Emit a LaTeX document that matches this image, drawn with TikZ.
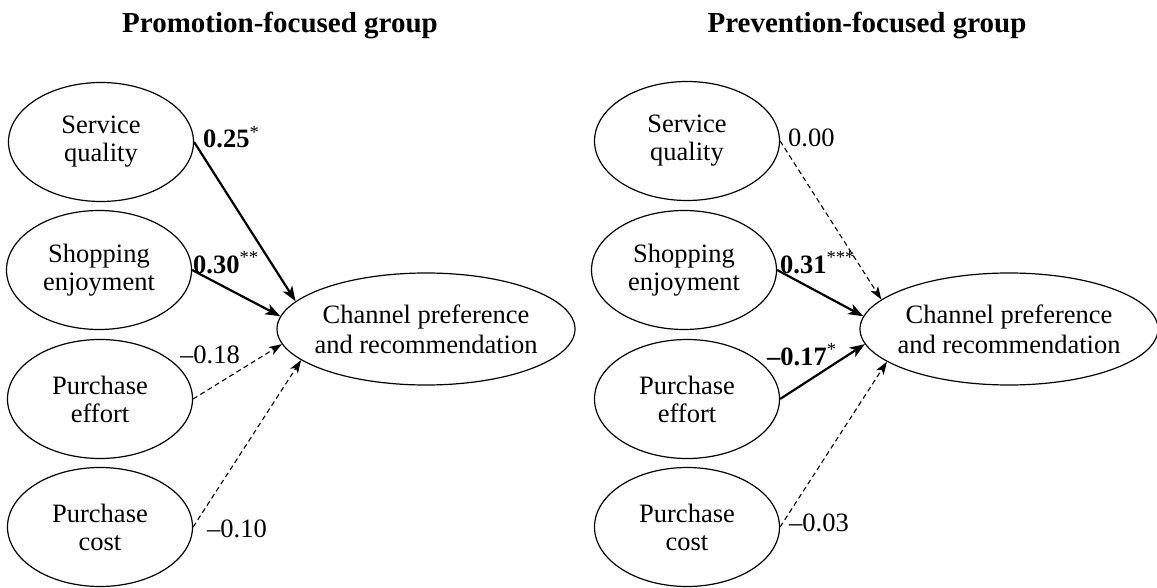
\documentclass[tikz,border=0pt]{standalone}
\usepackage{fontspec}
\setmainfont{Liberation Serif}
\usetikzlibrary{shapes.geometric,arrows.meta}
\newcommand{\sig}[1]{\textsuperscript{\normalfont #1}}
\begin{document}
\begin{tikzpicture}[x=1pt,y=-1pt,
  lat/.style={ellipse,draw,line width=1.2pt,minimum width=185pt,minimum height=119pt,inner sep=0pt,align=center,font=\fontsize{26.5}{28}\selectfont},
  outc/.style={ellipse,draw,line width=1.2pt,minimum width=298pt,minimum height=112pt,inner xsep=-12pt,inner ysep=0pt,align=center,font=\fontsize{26.5}{30}\selectfont},
  sigarrow/.style={-{Stealth[length=15pt,width=11pt,inset=4pt]},line width=2.2pt},
  nsarrow/.style={-{Stealth[length=13pt,width=9pt,inset=3.5pt]},line width=1.1pt,dash pattern=on 5pt off 3.5pt},
  coef/.style={anchor=base west,inner sep=0pt,font=\fontsize{26.5}{28}\selectfont},
  ttl/.style={anchor=base,inner sep=0pt,font=\fontsize{29}{32}\selectfont\bfseries}]
\useasboundingbox (0,0) rectangle (1157,588);

% titles
\node[ttl] (t1) at (280,33) {Promotion-focused group};
\node[ttl] (t2) at (867,33) {Prevention-focused group};

% left group
\node[lat] (sq1) at (101,142) {Service\\quality};
\node[lat] (se1) at (99,270) {Shopping\\enjoyment};
\node[lat] (pe1) at (100,399) {Purchase\\effort};
\node[lat] (pc1) at (100,527) {Purchase\\cost};
\node[outc] (ch1) at (426,329) {Channel preference\\and recommendation};

\draw[sigarrow] (sq1.east) -- (ch1.168);
\draw[sigarrow] (se1.east) -- (ch1.175.5);
\draw[nsarrow] (pe1.east) -- (ch1.186);
\draw[nsarrow] (pc1.east) -- (ch1.194);

\node[coef] (c11) at (203,148) {\textbf{0.25}\sig{*}};
\node[coef] (c12) at (193,273) {\textbf{0.30}\sig{**}};
\node[coef] (c13) at (180,363) {–0.18};
\node[coef] (c14) at (207,537) {–0.10};

% right group
\node[lat] (sq2) at (687,141) {Service\\quality};
\node[lat] (se2) at (684,270) {Shopping\\enjoyment};
\node[lat] (pe2) at (687,399) {Purchase\\effort};
\node[lat] (pc2) at (687,527) {Purchase\\cost};
\node[outc] (ch2) at (1009,329) {Channel preference\\and recommendation};

\draw[nsarrow] (sq2.east) -- (ch2.167);
\draw[sigarrow] (se2.east) -- (ch2.175);
\draw[sigarrow] (pe2.east) -- (ch2.186.5);
\draw[nsarrow] (pc2.east) -- (ch2.195);

\node[coef] (c21) at (788,147) {0.00};
\node[coef] (c22) at (780,273) {\textbf{0.31}\sig{***}};
\node[coef] (c23) at (767,365) {\textbf{–0.17}\sig{*}};
\node[coef] (c24) at (789,531) {–0.03};
\end{tikzpicture}
\end{document}
